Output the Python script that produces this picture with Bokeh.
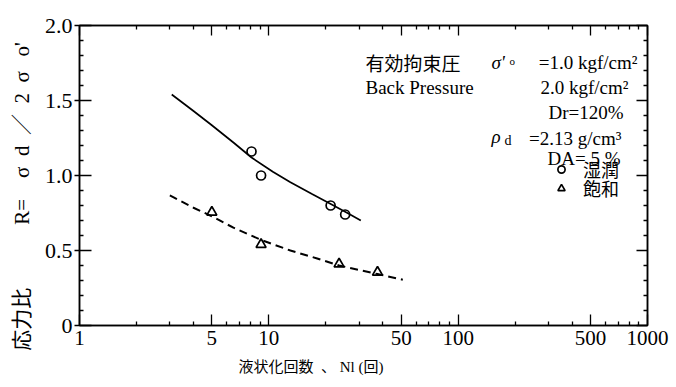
from bokeh.plotting import figure
from bokeh.models import (Range1d, LinearAxis, LogAxis, FixedTicker, Label,
                          Legend, LegendItem)
from bokeh.embed import file_html
from bokeh.resources import INLINE

# ---------------- data ----------------
wet_n = [8.1, 9.1, 21.2, 25.3]          # 湿潤 (circles)
wet_r = [1.16, 1.00, 0.80, 0.74]
sat_n = [5.0, 9.1, 23.5, 37.5]          # 飽和 (triangles)
sat_r = [0.755, 0.54, 0.41, 0.355]

wet_curve_n = [3.07, 4.0, 5.0, 6.5, 8.1, 10.5, 13.0, 17.0, 21.6, 26.0, 30.6]
wet_curve_r = [1.54, 1.43, 1.335, 1.22, 1.12, 1.025, 0.955, 0.875, 0.805, 0.75, 0.70]
sat_curve_n = [3.0, 4.0, 5.0, 6.5, 9.2, 13.0, 18.0, 23.5, 30.0, 37.5, 51.0]
sat_curve_r = [0.867, 0.785, 0.728, 0.652, 0.568, 0.50, 0.447, 0.40, 0.37, 0.343, 0.305]

x_ticks = [1, 5, 10, 50, 100, 500, 1000]
x_tick_labels = ["1", "5", "10", "50", "100", "500", "1000"]
x_minor = [2, 3, 4, 6, 7, 8, 9, 20, 30, 40, 60, 70, 80, 90,
           200, 300, 400, 600, 700, 800, 900]
y_ticks = [0, 0.5, 1.0, 1.5, 2.0]
y_tick_labels = ["0", "0.5", "1.0", "1.5", "2.0"]
y_minor = [0.1, 0.2, 0.3, 0.4, 0.6, 0.7, 0.8, 0.9, 1.1, 1.2, 1.3, 1.4,
           1.6, 1.7, 1.8, 1.9]

x_title = "液状化回数\u2002、 Nl (回)"
y_title = ("応力比\u3000\u3000\u3000R=\u2002\u2002σ\u2002d\u2002／\u20022"
           "\u2002σ\u2002\u2009o'")

SERIF = "Liberation Serif"
CJK = "Noto Sans CJK JP"
MIX = "Liberation Serif, Noto Sans CJK JP"

FL, FB = 79, 325   # frame left / bottom in page pixels

p = figure(width=676, height=387, x_axis_type="log",
           x_range=Range1d(1, 1000), y_range=Range1d(0, 2),
           output_backend="svg", toolbar_location=None,
           min_border_left=FL, min_border_right=676 - 647,
           min_border_top=25, min_border_bottom=387 - FB)
p.grid.visible = False
p.outline_line_color = "black"
p.outline_line_width = 1.5
p.background_fill_color = "white"
p.border_fill_color = "white"

xt = FixedTicker(ticks=x_ticks, minor_ticks=x_minor)
yt = FixedTicker(ticks=y_ticks, minor_ticks=y_minor)

xa = p.xaxis[0]
xa.ticker = xt
xa.major_label_overrides = {t: l for t, l in zip(x_ticks, x_tick_labels)}
xa.major_tick_in = 11
xa.major_tick_out = 0
xa.minor_tick_in = 4
xa.minor_tick_out = 0
xa.major_label_standoff = 5
xa.major_label_text_font = SERIF
xa.major_label_text_font_size = "21px"
xa.major_label_text_color = "black"
xa.axis_line_width = 1.5
xa.major_tick_line_width = 1.3
xa.minor_tick_line_width = 1.3
xa.axis_label = x_title + "\u3000" * 7
xa.axis_label_text_font = MIX
xa.axis_label_text_font_size = "15px"
xa.axis_label_text_font_style = "normal"
xa.axis_label_text_color = "black"
xa.axis_label_standoff = 11

ya = p.yaxis[0]
ya.ticker = yt
ya.major_label_overrides = {t: l for t, l in zip(y_ticks, y_tick_labels)}
ya.major_tick_in = 12
ya.major_tick_out = 5
ya.minor_tick_in = 4
ya.minor_tick_out = 0
ya.major_label_standoff = 2
ya.major_label_text_font = SERIF
ya.major_label_text_font_size = "22px"
ya.major_label_text_color = "black"
ya.axis_line_width = 1.5
ya.major_tick_line_width = 1.3
ya.minor_tick_line_width = 1.3
ya.axis_label = y_title + "\u3000\u3000"
ya.axis_label_text_font = MIX
ya.axis_label_text_font_size = "21px"
ya.axis_label_text_font_style = "normal"
ya.axis_label_text_color = "black"
ya.axis_label_standoff = 8

top = LogAxis(ticker=xt, major_tick_in=10, major_tick_out=0, minor_tick_in=4,
              minor_tick_out=0, major_label_text_font_size="0px",
              major_label_standoff=0, axis_line_width=1.5,
              major_tick_line_width=1.3, minor_tick_line_width=1.3)
p.add_layout(top, "above")
right = LinearAxis(ticker=yt, major_tick_in=11, major_tick_out=0, minor_tick_in=4,
                   minor_tick_out=0, major_label_text_font_size="0px",
                   major_label_standoff=0, axis_line_width=1.5,
                   major_tick_line_width=1.3, minor_tick_line_width=1.3)
p.add_layout(right, "right")

# ---------------- marks ----------------
p.line(wet_curve_n, wet_curve_r, line_color="black", line_width=1.7)
p.line(sat_curve_n, sat_curve_r, line_color="black", line_width=2.0, line_dash="8 5")
r_c = p.scatter(wet_n, wet_r, marker="circle", size=9, fill_color=None,
                line_color="black", line_width=1.7)
r_t = p.scatter(sat_n, sat_r, marker="triangle", size=10, fill_color=None,
                line_color="black", line_width=1.7)

# ---------------- texts inside the frame ----------------
def txt(s, xi, yi, size, font=SERIF, align="left", style="normal"):
    p.add_layout(Label(x=xi - FL, y=FB - yi, x_units="screen", y_units="screen",
                       text=s, text_font=font, text_font_size=f"{size}px",
                       text_align=align, text_baseline="alphabetic",
                       text_font_style=style, text_color="black"))

txt("有効拘束圧", 365, 62, 19, CJK)
txt("σ'", 491, 62, 19, SERIF, style="italic")
txt("o", 509, 60, 11, SERIF)
txt("=1.0 kgf/cm²", 637, 62, 19, SERIF, align="right")
txt("Back Pressure", 365, 87, 19, SERIF)
txt("2.0 kgf/cm²", 628, 87, 19, SERIF, align="right")
txt("Dr=120%", 623, 112, 19, SERIF, align="right")
txt("ρ", 491, 136, 19, SERIF, style="italic")
txt("d", 504, 140, 14, SERIF)
txt("=2.13 g/cm³", 621, 138, 19, SERIF, align="right")
txt("DA= 5 %", 620, 158, 19, SERIF, align="right")

# legend (two single-item legends, placed like the reference)
for item_label, rend, cy in (("湿潤", r_c, 173), ("飽和", r_t, 192)):
    lg = Legend(items=[LegendItem(label=item_label, renderers=[rend])],
                location=(551 - FL, FB - cy - 9),
                glyph_width=20, glyph_height=18, label_height=18,
                label_standoff=12, padding=0, margin=0, spacing=0,
                border_line_color=None, background_fill_alpha=0,
                label_text_font=CJK, label_text_font_size="18px",
                label_text_line_height=1.0,
                label_text_color="black")
    p.add_layout(lg, "center")

open("out.html", "w").write(file_html(p, INLINE))
